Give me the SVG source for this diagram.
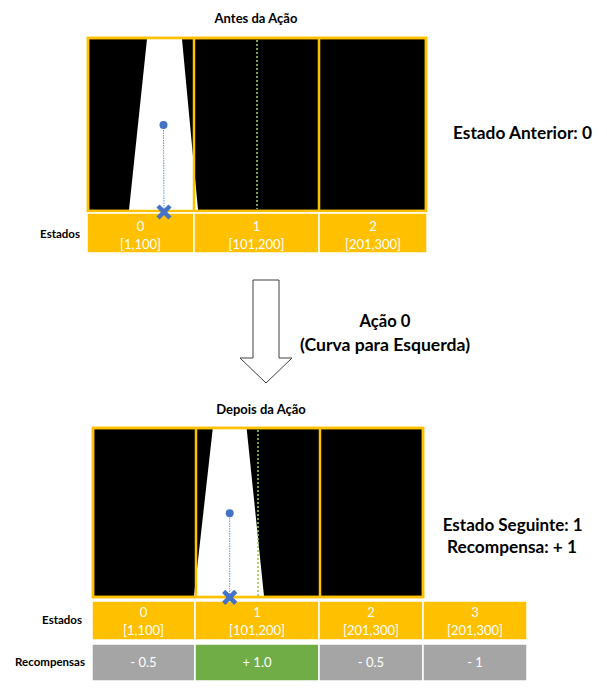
<svg xmlns="http://www.w3.org/2000/svg" width="607" height="691" viewBox="0 0 607 691">
<style>
.title{font-family:Lato,"Liberation Sans",sans-serif;font-weight:bold;font-size:13px;fill:#000;text-anchor:middle}
.big{font-family:Lato,"Liberation Sans",sans-serif;font-weight:bold;font-size:16.5px;fill:#000;text-anchor:middle}
.lbl{font-family:Lato,"Liberation Sans",sans-serif;font-weight:bold;font-size:11.5px;fill:#000;text-anchor:end}
.cell{font-family:Lato,"Liberation Sans",sans-serif;font-size:13px;fill:#fff;text-anchor:middle}
.frame{fill:#000;stroke:#FFC000;stroke-width:2.5}
.div{stroke:#FFC000;stroke-width:2.5}
.road{fill:#fff}
.center{stroke:#92D050;stroke-width:1.6;stroke-dasharray:2 2}
.ray{stroke:#5B9BD5;stroke-width:1;stroke-dasharray:1.5 1}
.dot{fill:#4472C4}
.xm{stroke:#4472C4;stroke-width:4.5}
.st{fill:#FFC000;stroke:#fff;stroke-width:1.5}
.gr{fill:#A5A5A5;stroke:#fff;stroke-width:1.5}
.gn{fill:#70AD47;stroke:#fff;stroke-width:1.5}
</style>
<g id="title-before"><text class="title" x="256" y="23">Antes da Ação</text></g>
<g id="panel-before">
<rect class="frame" x="88" y="38" width="338" height="173"/>
<polygon class="road" points="147,39 182,39 198,210 129,210"/>
<line class="div" x1="194" y1="38" x2="194" y2="211"/>
<line class="div" x1="319" y1="38" x2="319" y2="211"/>
<rect x="88" y="38" width="338" height="173" fill="none" stroke="#FFC000" stroke-width="2.5"/>
<line class="center" x1="257" y1="40" x2="257" y2="209"/>
<line class="ray" x1="163.5" y1="125" x2="164" y2="211"/>
<circle class="dot" cx="163.5" cy="125" r="4"/>
</g>
<g id="states-before">
<text class="lbl" x="80" y="238">Estados</text>
<rect class="st" x="87" y="213" width="107" height="40"/>
<rect class="st" x="194" y="213" width="125" height="40"/>
<rect class="st" x="319" y="213" width="108" height="40"/>
<g id="xm-top" class="xm"><line x1="158" y1="206" x2="170" y2="218"/><line x1="170" y1="206" x2="158" y2="218"/></g>
<text class="cell" x="140.5" y="231">0</text><text class="cell" x="140.5" y="249">[1,100]</text>
<text class="cell" x="256.5" y="231">1</text><text class="cell" x="256.5" y="249">[101,200]</text>
<text class="cell" x="373" y="231">2</text><text class="cell" x="373" y="249">[201,300]</text>
</g>
<g id="prev-state"><text class="big" x="522.5" y="139" textLength="139" lengthAdjust="spacingAndGlyphs">Estado Anterior: 0</text></g>
<g id="connectors">
<polygon points="253,280 279,280 279,358 292,358 266,383 240,358 253,358" fill="#fff" stroke="#404040" stroke-width="1"/>
</g>
<g id="action"><text class="big" x="385" y="327" textLength="51" lengthAdjust="spacingAndGlyphs">Ação 0</text><text class="big" x="385" y="351" textLength="170" lengthAdjust="spacingAndGlyphs">(Curva para Esquerda)</text></g>
<g id="title-after"><text class="title" x="261" y="414">Depois da Ação</text></g>
<g id="panel-after">
<rect class="frame" x="93" y="428" width="330" height="169"/>
<polygon class="road" points="212.7,429 246.7,429 264,596 194,596"/>
<line class="div" x1="196" y1="428" x2="196" y2="597"/>
<line class="div" x1="320" y1="428" x2="320" y2="597"/>
<rect x="93" y="428" width="330" height="169" fill="none" stroke="#FFC000" stroke-width="2.5"/>
<line class="center" x1="258" y1="430" x2="258" y2="596"/>
<line class="ray" x1="229.7" y1="513" x2="229.7" y2="597"/>
<circle class="dot" cx="229.7" cy="513.3" r="4"/>
</g>
<g id="states-after">
<text class="lbl" x="82" y="624">Estados</text>
<rect class="st" x="92" y="601" width="103" height="39"/>
<rect class="st" x="195" y="601" width="124" height="39"/>
<rect class="st" x="319" y="601" width="104" height="39"/>
<rect class="st" x="423" y="601" width="104" height="39"/>
<text class="cell" x="143.5" y="617">0</text><text class="cell" x="143.5" y="635">[1,100]</text>
<text class="cell" x="257" y="617">1</text><text class="cell" x="257" y="635">[101,200]</text>
<text class="cell" x="371" y="617">2</text><text class="cell" x="371" y="635">[201,300]</text>
<text class="cell" x="475" y="617">3</text><text class="cell" x="475" y="635">[201,300]</text>
<g class="xm"><line x1="223.7" y1="591.3" x2="235.7" y2="603.3"/><line x1="235.7" y1="591.3" x2="223.7" y2="603.3"/></g>
</g>
<g id="rewards">
<text class="lbl" x="85" y="666">Recompensas</text>
<rect class="gr" x="92" y="644" width="103" height="37"/>
<rect class="gn" x="195" y="644" width="124" height="37"/>
<rect class="gr" x="319" y="644" width="104" height="37"/>
<rect class="gr" x="423" y="644" width="104" height="37"/>
<text class="cell" x="143.5" y="667">- 0.5</text>
<text class="cell" x="257" y="667">+ 1.0</text>
<text class="cell" x="371" y="667">- 0.5</text>
<text class="cell" x="475" y="667">- 1</text>
</g>
<g id="next-state"><text class="big" x="512.7" y="531" textLength="140" lengthAdjust="spacingAndGlyphs">Estado Seguinte: 1</text><text class="big" x="512" y="553" textLength="130" lengthAdjust="spacingAndGlyphs">Recompensa: + 1</text></g>
</svg>
